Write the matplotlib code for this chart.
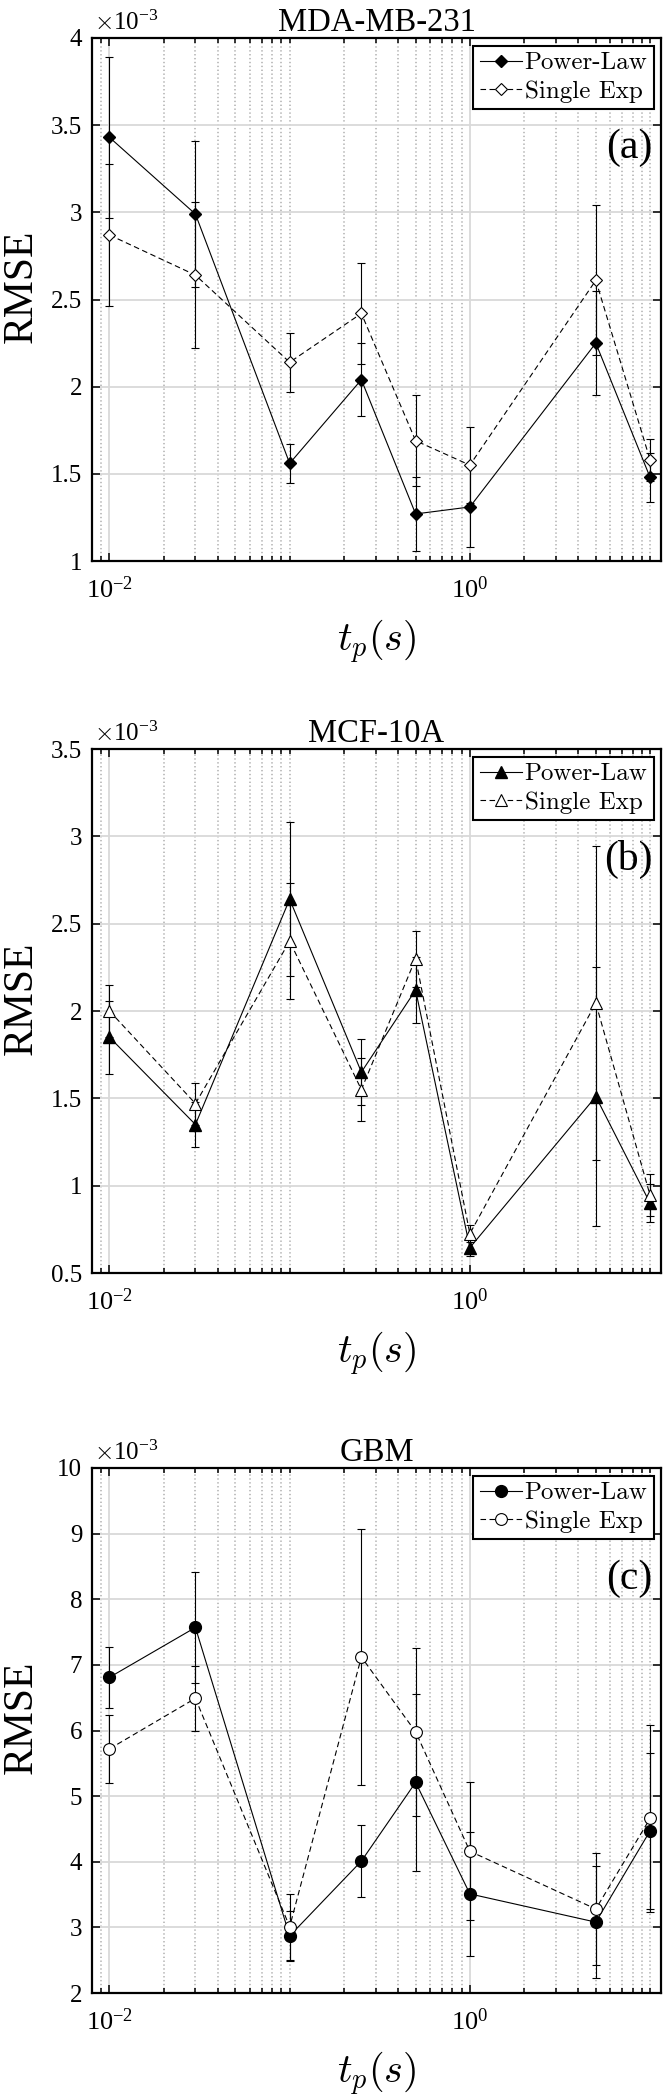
import numpy as np
import matplotlib
matplotlib.use('Agg')
import matplotlib.pyplot as plt
from matplotlib.ticker import FixedLocator, FuncFormatter, LogFormatterSciNotation

plt.rcParams['font.family'] = ['Liberation Serif', 'DejaVu Serif']
plt.rcParams['mathtext.fontset'] = 'cm'
plt.rcParams['lines.scale_dashes'] = False

# tp (s)
tp = [0.01, 0.03, 0.1, 0.25, 0.5, 1, 5, 10]

# RMSE in units of 1e-3
# MDA-MB-231
pl_a = [3.43, 2.99, 1.56, 2.04, 1.27, 1.31, 2.25, 1.48]
pl_a_err = [0.46, 0.42, 0.11, 0.21, 0.21, 0.23, 0.30, 0.14]
se_a = [2.87, 2.64, 2.14, 2.42, 1.69, 1.55, 2.61, 1.58]
se_a_err = [0.41, 0.42, 0.17, 0.29, 0.26, 0.22, 0.43, 0.12]
# MCF-10A
pl_b = [1.85, 1.35, 2.64, 1.65, 2.12, 0.645, 1.51, 0.90]
pl_b_err = [0.21, 0.13, 0.44, 0.19, 0.19, 0.05, 0.74, 0.11]
se_b = [2.00, 1.47, 2.40, 1.55, 2.30, 0.725, 2.045, 0.945]
se_b_err = [0.15, 0.12, 0.33, 0.18, 0.16, 0.05, 0.90, 0.12]
# GBM
pl_c = [6.81, 7.57, 2.87, 4.01, 5.21, 3.51, 3.08, 4.47]
pl_c_err = [0.47, 0.85, 0.38, 0.55, 1.35, 0.95, 0.85, 1.19]
se_c = [5.72, 6.49, 3.01, 7.12, 5.98, 4.16, 3.28, 4.66]
se_c_err = [0.52, 0.50, 0.50, 1.95, 1.28, 1.05, 0.85, 1.42]

titles = ['MDA-MB-231', 'MCF-10A', 'GBM']
tags = ['(a)', '(b)', '(c)']
markers = ['D', '^', 'o']
msizes = [6.5, 9, 8.5]
ylims = [(1, 4), (0.5, 3.5), (2, 10)]
ysteps = [0.5, 0.5, 1]

panels = [(pl_a, pl_a_err, se_a, se_a_err),
          (pl_b, pl_b_err, se_b, se_b_err),
          (pl_c, pl_c_err, se_c, se_c_err)]

W, H = 667, 2100
# axes boxes in pixels: left, top, right, bottom
boxes = [(92, 38, 661, 561), (92, 749, 661, 1273), (92, 1468, 661, 1993)]

fig = plt.figure(figsize=(W / 100, H / 100), dpi=100)

major_x = [1e-2, 1e0]
minor_x = [k * 10.0 ** d for d in range(-3, 2) for k in range(1, 10) if k * 10.0 ** d not in major_x]

for i in range(3):
    l, t, r, b = boxes[i]
    ax = fig.add_axes([l / W, 1 - b / H, (r - l) / W, (b - t) / H])
    pl, pl_err, se, se_err = panels[i]
    m = markers[i]
    ms = msizes[i]

    eb1 = ax.errorbar(tp, pl, yerr=pl_err, color='k', lw=0.8, elinewidth=0.8,
                      capsize=2.6, capthick=0.8, marker=m, ms=ms, mfc='k', mec='k',
                      ls='-', zorder=3)
    eb2 = ax.errorbar(tp, se, yerr=se_err, color='k', lw=0.8, elinewidth=0.8,
                      capsize=2.6, capthick=0.8, marker=m, ms=ms, mfc='w', mec='k',
                      mew=0.8, ls=(0, (4, 2.5)), zorder=4)

    ax.set_xscale('log')
    ax.set_xlim(0.008, 11.5)
    ax.set_ylim(*ylims[i])
    ax.xaxis.set_major_locator(FixedLocator(major_x))
    ax.xaxis.set_minor_locator(FixedLocator(minor_x))
    ax.xaxis.set_major_formatter(LogFormatterSciNotation())
    ax.xaxis.set_minor_formatter(FuncFormatter(lambda v, p: ''))
    y0, y1 = ylims[i]
    ax.set_yticks(np.arange(y0, y1 + 1e-9, ysteps[i]))
    ax.yaxis.set_major_formatter(FuncFormatter(lambda v, p: '%g' % v))

    ax.grid(True, which='major', color='#d9d9d9', lw=1.3, ls='-', zorder=0)
    ax.grid(True, which='minor', axis='x', color='#b5b5b5', lw=1.2, ls=(0, (1, 1.8)), zorder=0)
    ax.set_axisbelow(True)

    ax.tick_params(which='both', direction='in', top=True, right=True, width=1.1,
                   labelsize=18, colors='k')
    ax.tick_params(axis='x', which='major', labelsize=19, pad=11)
    ax.tick_params(which='major', length=6)
    ax.tick_params(which='minor', length=3.5)
    ax.tick_params(axis='y', which='major', pad=7)
    for s in ax.spines.values():
        s.set_linewidth(1.6)

    ax.set_title(titles[i], fontsize=23.5, pad=4)
    ax.text(0.004, 1.006, r'$\times\mathdefault{10^{-3}}$', transform=ax.transAxes,
            ha='left', va='bottom', fontsize=18)
    ax.set_ylabel('RMSE', fontsize=30)
    ax.yaxis.set_label_coords(-0.09, 0.525)
    ax.set_xlabel(r'$t_p(s)$', fontsize=29)
    ax.xaxis.set_label_coords(0.5, -0.108)
    ax.text(0.985, 0.79, tags[i], transform=ax.transAxes, ha='right', va='center', fontsize=30)

    leg = ax.legend([eb1[0], eb2[0]], ['Power-Law', 'Single Exp'], loc='upper right',
                    prop={'family': 'cmr10', 'size': 18}, frameon=True, fancybox=False,
                    framealpha=1, edgecolor='k', borderpad=0.25, handlelength=1.7,
                    handletextpad=0.1, labelspacing=0.25, borderaxespad=0.3)
    leg.get_frame().set_linewidth(1.5)

fig.savefig('out.png', dpi=100)
